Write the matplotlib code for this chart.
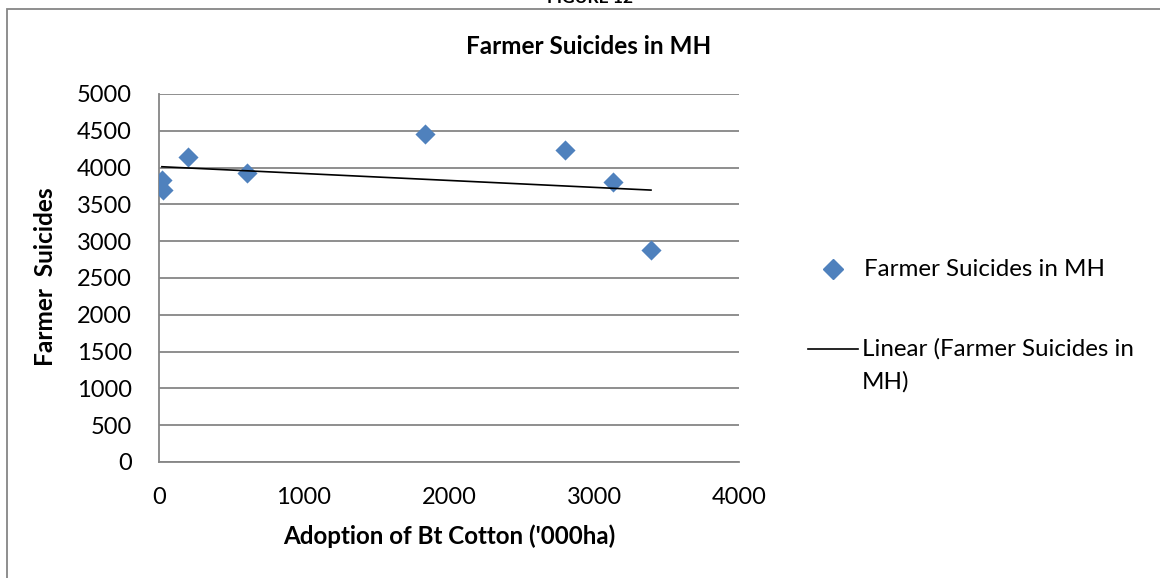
import numpy as np
import matplotlib
matplotlib.use("Agg")
import matplotlib.pyplot as plt
from matplotlib.lines import Line2D
from matplotlib.patches import Rectangle

plt.rcParams['font.family'] = ['Lato', 'DejaVu Sans']

# Bt cotton area ('000 ha) vs farmer suicides in Maharashtra
bt_area = [20, 28, 200, 607, 1834, 2800, 3131, 3393]
suicides = [3832, 3696, 4144, 3927, 4457, 4239, 3804, 2880]
x_ticks = [0, 1000, 2000, 3000, 4000]
y_ticks = [0, 500, 1000, 1500, 2000, 2500, 3000, 3500, 4000, 4500, 5000]

series_name = "Farmer Suicides in MH"
trend_name = "Linear (Farmer Suicides in\nMH)"

blue = "#4F81BD"
grid_grey = "#868686"
W, H = 1160, 578

fig = plt.figure(figsize=(W / 100, H / 100), dpi=100)

# outer chart-area border (runs off the right and bottom edges)
fig.patches.append(Rectangle((7 / W, -0.05), 1.2, 1 - 9 / H + 0.05,
                             transform=fig.transFigure, fill=False,
                             edgecolor=grid_grey, linewidth=1.3))

# caption sits above the page edge, only its lower part shows
fig.text(590 / W, 1 - 3 / H, "FIGURE 12", ha="center", va="baseline",
         fontsize=12.5, fontweight="bold")

ax = fig.add_axes([159 / W, 1 - 462 / H, 580 / W, 368 / H])

ax.scatter(bt_area, suicides, marker="D", s=105, color=blue, zorder=3,
           linewidths=0)

# least-squares trend line over the data range
slope, icpt = np.polyfit(bt_area, suicides, 1)
xs = np.array([min(bt_area), max(bt_area)])
ax.plot(xs, slope * xs + icpt, color="black", linewidth=1.2, zorder=4)

ax.set_xlim(0, 4000)
ax.set_ylim(0, 5000)
ax.set_xticks(x_ticks)
ax.set_yticks(y_ticks)
ax.tick_params(axis="both", length=0, labelsize=17)
ax.tick_params(axis="x", pad=18)
ax.tick_params(axis="y", pad=19.5)
ax.yaxis.grid(True, color=grid_grey, linewidth=1.3)
ax.set_axisbelow(True)
for side in ("top", "right"):
    ax.spines[side].set_visible(False)
for side in ("left", "bottom"):
    ax.spines[side].set_color(grid_grey)
    ax.spines[side].set_linewidth(1.3)

fig.text(589 / W, 1 - 47 / H, series_name, ha="center", va="center",
         fontsize=17.5, fontweight="bold")
ax.set_xlabel("Adoption of Bt Cotton ('000ha)", fontsize=17.4,
              fontweight="bold", labelpad=11.5)
ax.set_ylabel("Farmer  Suicides", fontsize=17.6, fontweight="bold")
ax.yaxis.set_label_coords((57 - 159) / 580, (462 - 277) / 368)

# legend drawn by hand so the line sits on the first text row
fig.lines.append(Line2D([833 / W], [1 - 269 / H], marker="D",
                        markersize=10, color=blue, linestyle="none",
                        transform=fig.transFigure))
fig.text(864 / W, 1 - 269 / H, series_name, fontsize=17.4,
         va="center", ha="left")
fig.lines.append(Line2D([808 / W, 858 / W], [1 - 349 / H] * 2,
                        color="black", linewidth=1.2,
                        transform=fig.transFigure))
fig.text(862 / W, 1 - 349 / H, trend_name.split("\n")[0], fontsize=17.4,
         va="center", ha="left")
fig.text(862 / W, 1 - 382 / H, trend_name.split("\n")[1], fontsize=17.4,
         va="center", ha="left")

fig.savefig("out.png", dpi=100)
